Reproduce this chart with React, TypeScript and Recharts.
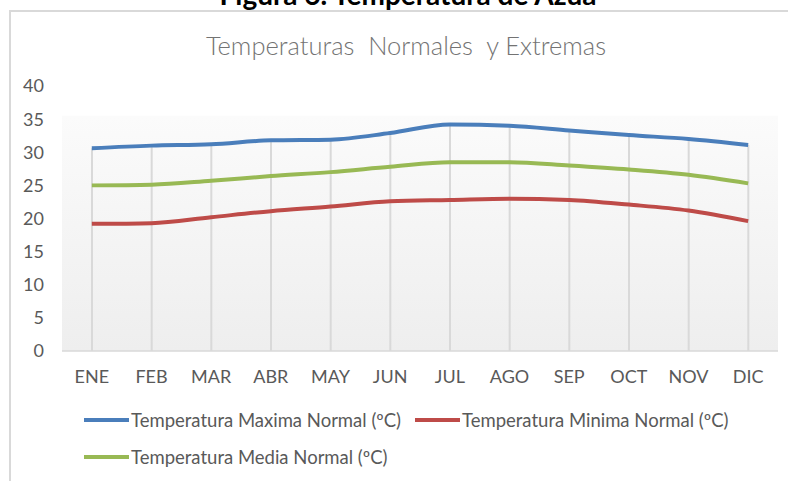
import React from "react";
import { ComposedChart, Line, Bar, XAxis, YAxis, ReferenceArea } from "recharts";

const months = ["ENE", "FEB", "MAR", "ABR", "MAY", "JUN", "JUL", "AGO", "SEP", "OCT", "NOV", "DIC"];
const tempMax = [30.6, 31.0, 31.2, 31.8, 31.9, 32.9, 34.2, 34.0, 33.3, 32.6, 32.0, 31.1];
const tempMin = [19.2, 19.3, 20.2, 21.1, 21.8, 22.6, 22.8, 23.0, 22.8, 22.1, 21.2, 19.6];
const tempMedia = [25.0, 25.1, 25.7, 26.4, 27.0, 27.8, 28.5, 28.5, 28.0, 27.4, 26.6, 25.3];
const yTicks = [0, 5, 10, 15, 20, 25, 30, 35, 40];

const seriesMax = { key: "max", name: "Temperatura Maxima Normal (ºC)", color: "#4a7ebb" };
const seriesMin = { key: "min", name: "Temperatura Minima Normal (ºC)", color: "#be4b48" };
const seriesMedia = { key: "media", name: "Temperatura Media Normal (ºC)", color: "#98b954" };

const data = months.map((m, i) => ({
  month: m,
  max: tempMax[i],
  min: tempMin[i],
  media: tempMedia[i],
}));

const FONT = "Lato, 'Open Sans', sans-serif";

function LegendItem({ s, left, top }: { s: { name: string; color: string }; left: number; top: number }) {
  return (
    <div style={{ position: "absolute", left, top, display: "flex", alignItems: "center", height: 24 }}>
      <div style={{ width: 45, height: 4, background: s.color, marginRight: 2 }} />
      <span style={{ fontFamily: FONT, fontSize: 18.5, color: "#595959", whiteSpace: "nowrap" }}>{s.name}</span>
    </div>
  );
}

export default function App() {
  return (
    <div style={{ position: "absolute", left: 0, top: 0, width: 788, height: 481, overflow: "hidden", background: "#fff" }}>
      <div
        style={{
          position: "absolute",
          left: 0,
          width: 816,
          textAlign: "center",
          top: -22,
          fontFamily: FONT,
          fontWeight: 700,
          fontSize: 28,
          color: "#000",
          lineHeight: "32px",
          whiteSpace: "nowrap",
        }}
      >
        Figura 6. Temperatura de Azua
      </div>
      <div
        style={{
          position: "absolute",
          left: 9,
          top: 10,
          width: 800,
          height: 500,
          borderLeft: "2px solid #d9d9d9",
          borderTop: "2px solid #d9d9d9",
          background: "#fff",
        }}
      />
      <div
        style={{
          position: "absolute",
          left: 0,
          width: 812,
          top: 31,
          textAlign: "center",
          fontFamily: FONT,
          fontWeight: 300,
          fontSize: 25.5,
          color: "#737373",
          whiteSpace: "pre",
          lineHeight: "28px",
        }}
      >
        {"Temperaturas  Normales  y Extremas"}
      </div>
      <div style={{ position: "absolute", left: 0, top: 0 }}>
        <ComposedChart width={788} height={481} data={data} margin={{ top: 86, right: 10, bottom: 100, left: 0 }}>
          <defs>
            <linearGradient id="plotBg" x1="0" y1="0" x2="0" y2="1">
              <stop offset="0" stopColor="#ffffff" />
              <stop offset="0.11" stopColor="#ffffff" />
              <stop offset="0.115" stopColor="#fbfbfb" />
              <stop offset="1" stopColor="#eeeeee" />
            </linearGradient>
          </defs>
          <ReferenceArea y1={0} y2={40} fill="url(#plotBg)" fillOpacity={1} stroke="none" ifOverflow="visible" />
          <XAxis
            dataKey="month"
            height={30}
            tickLine={false}
            tickSize={0}
            tickMargin={19}
            axisLine={{ stroke: "#d9d9d9", strokeWidth: 1.5 }}
            tick={{ fill: "#595959", fontSize: 18, fontFamily: FONT }}
            interval={0}
          />
          <YAxis
            width={62}
            domain={[0, 40]}
            ticks={yTicks}
            tickLine={false}
            axisLine={false}
            tickSize={0}
            tickMargin={18}
            tick={{ fill: "#595959", fontSize: 18, fontFamily: FONT }}
            interval={0}
          />
          <Bar dataKey={seriesMax.key} barSize={2} fill="#d9d9d9" isAnimationActive={false} legendType="none" />
          <Line
            type="monotone"
            dataKey={seriesMax.key}
            name={seriesMax.name}
            stroke={seriesMax.color}
            strokeWidth={4}
            dot={false}
            isAnimationActive={false}
          />
          <Line
            type="monotone"
            dataKey={seriesMin.key}
            name={seriesMin.name}
            stroke={seriesMin.color}
            strokeWidth={4}
            dot={false}
            isAnimationActive={false}
          />
          <Line
            type="monotone"
            dataKey={seriesMedia.key}
            name={seriesMedia.name}
            stroke={seriesMedia.color}
            strokeWidth={4}
            dot={false}
            isAnimationActive={false}
          />
        </ComposedChart>
      </div>
      <LegendItem s={seriesMax} left={84} top={408} />
      <LegendItem s={seriesMin} left={415} top={408} />
      <LegendItem s={seriesMedia} left={84} top={445} />
    </div>
  );
}
